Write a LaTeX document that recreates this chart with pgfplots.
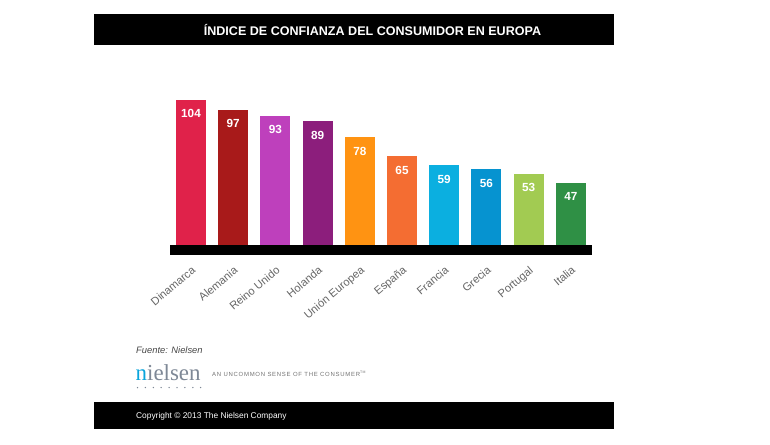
\documentclass[border=0pt]{standalone}
\usepackage{fontspec}
\setmainfont{Liberation Sans}
\newfontfamily\seriflogo{Liberation Serif}
\newfontfamily\tagfont[LetterSpace=12]{Liberation Sans}
\usepackage{pgfplots}
\pgfplotsset{compat=1.18}
\definecolor{cDin}{HTML}{E0224A}
\definecolor{cAle}{HTML}{A81A1A}
\definecolor{cRei}{HTML}{BE40BC}
\definecolor{cHol}{HTML}{8C1E7C}
\definecolor{cUE}{HTML}{FF9312}
\definecolor{cEsp}{HTML}{F46D32}
\definecolor{cFra}{HTML}{0BAFE0}
\definecolor{cGre}{HTML}{0693D0}
\definecolor{cPor}{HTML}{A2CB52}
\definecolor{cIta}{HTML}{2F9045}
\definecolor{ticktext}{HTML}{666666}
\definecolor{logogray}{HTML}{7E8896}
\definecolor{logoblue}{HTML}{0AA5DC}
\begin{document}
\begin{tikzpicture}
\fill[white] (0,0) rectangle (770bp,-445bp);
\fill[black] (94bp,-14bp) rectangle (614bp,-44.5bp);
\node[white, inner sep=0pt, font=\fontsize{12.6}{14}\selectfont\bfseries] at (372.5bp,-29.5bp) {ÍNDICE DE CONFIANZA DEL CONSUMIDOR EN EUROPA};
\begin{axis}[
  at={(169.9bp,-251bp)}, anchor=south west,
  scale only axis, width=422bp, height=160.2bp,
  xmin=-0.5, xmax=9.5, ymin=0, ymax=110,
  clip=false,
  axis line style={draw=none},
  ytick=\empty,
  xtick={0,1,2,3,4,5,6,7,8,9},
  xticklabels={Dinamarca,Alemania,Reino Unido,Holanda,Unión Europea,España,Francia,Grecia,Portugal,Italia},
  major tick length=0pt,
  xticklabel shift=14bp,
  xticklabel style={rotate=40, anchor=north east, inner sep=0pt, text=ticktext, font=\fontsize{11.2}{12}\selectfont},
  /pgf/number format/assume math mode=true,
  bar width=30bp,
  nodes near coords,
  every node near coord/.append style={anchor=center, yshift=-14bp, text=white, inner sep=0pt, font=\fontsize{11.8}{12}\selectfont\bfseries},
]
\addplot[ybar, fill=cDin, draw=none] coordinates {(0,104)};
\addplot[ybar, fill=cAle, draw=none] coordinates {(1,97)};
\addplot[ybar, fill=cRei, draw=none] coordinates {(2,93)};
\addplot[ybar, fill=cHol, draw=none] coordinates {(3,89)};
\addplot[ybar, fill=cUE, draw=none] coordinates {(4,78)};
\addplot[ybar, fill=cEsp, draw=none] coordinates {(5,65)};
\addplot[ybar, fill=cFra, draw=none] coordinates {(6,59)};
\addplot[ybar, fill=cGre, draw=none] coordinates {(7,56)};
\addplot[ybar, fill=cPor, draw=none] coordinates {(8,53)};
\addplot[ybar, fill=cIta, draw=none] coordinates {(9,47)};
\fill[black] (axis cs:-0.5,4.1) rectangle (axis cs:9.5,-2.7);
\end{axis}
\node[anchor=west, inner sep=0pt, text=black!72, font=\fontsize{9.4}{11}\selectfont\itshape] at (136bp,-350bp) {Fuente: Nielsen};
\node[anchor=base west, inner sep=0pt, font=\fontsize{23}{24}\selectfont\seriflogo] at (135.5bp,-380bp) {\textcolor{logoblue}{n}\textcolor{logogray}{ielsen}};
\foreach \i in {0,...,8} { \fill[logogray] (137.5bp+\i*7.9bp,-387.5bp) circle (0.75bp); }
\node[anchor=base west, inner sep=0pt, text=black!55, font=\fontsize{6}{7}\selectfont\tagfont] at (212bp,-376.5bp) {AN UNCOMMON SENSE OF THE CONSUMER\textsuperscript{\fontsize{3.5}{4}\selectfont TM}};
\fill[black] (94bp,-402bp) rectangle (614bp,-429bp);
\node[anchor=west, inner sep=0pt, text=white, font=\fontsize{8.4}{10}\selectfont] at (136bp,-416bp) {Copyright © 2013 The Nielsen Company};
\end{tikzpicture}
\end{document}
